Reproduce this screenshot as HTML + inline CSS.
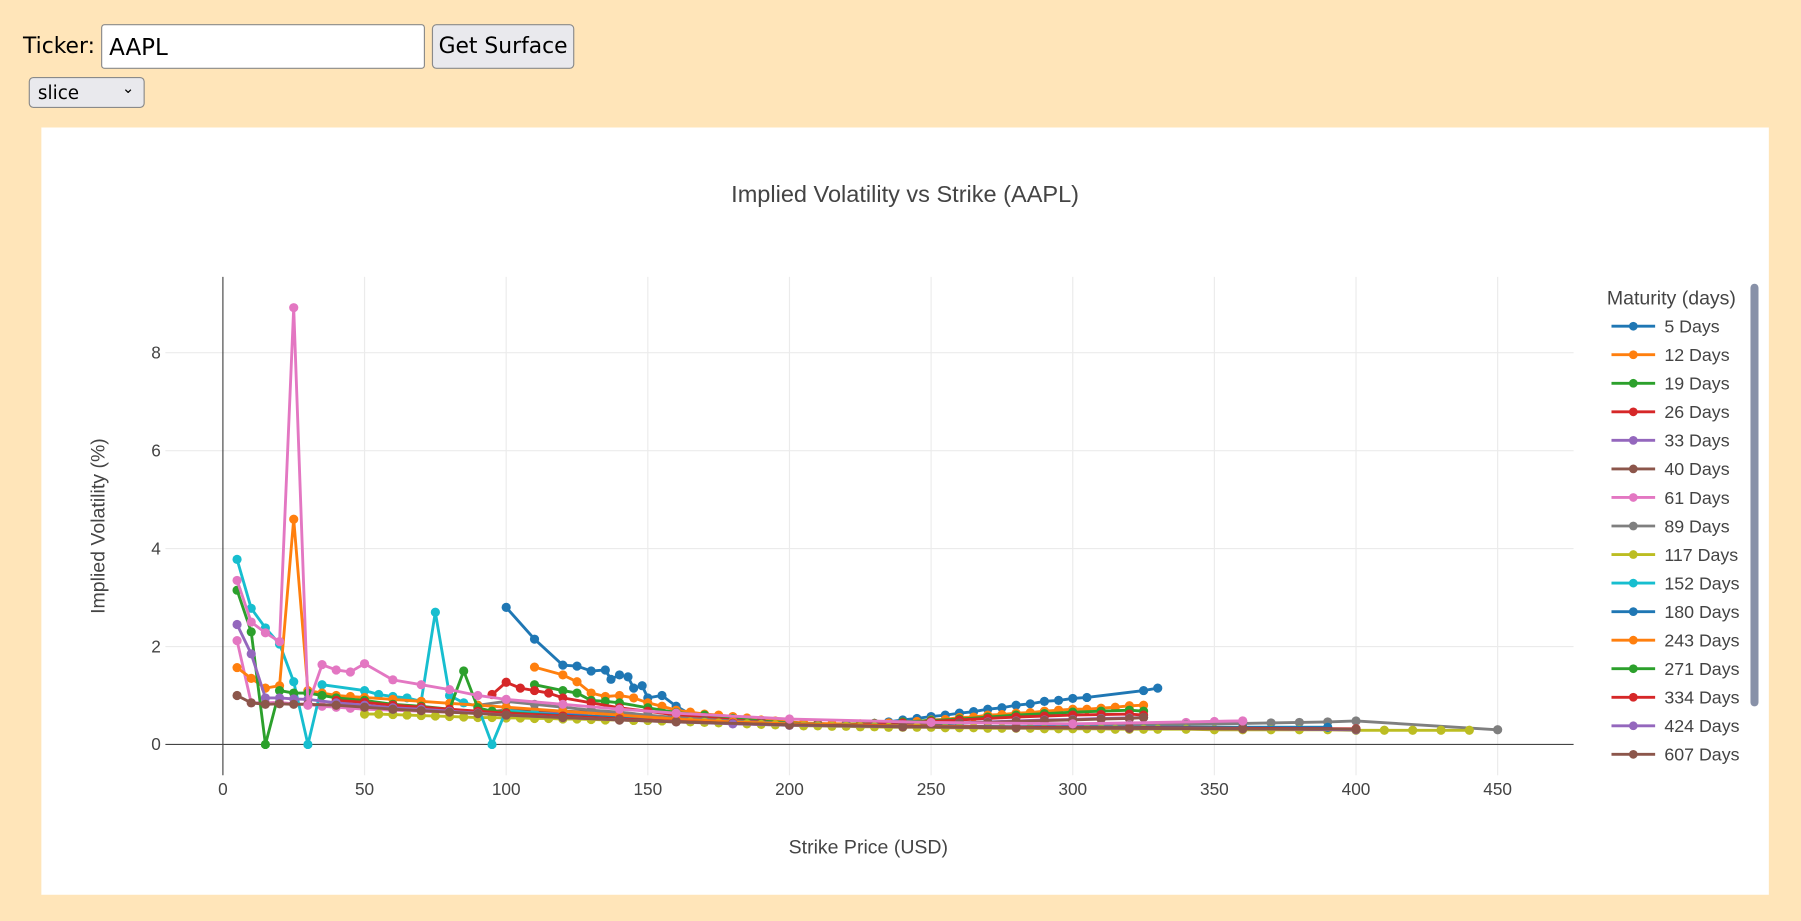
<!DOCTYPE html>
<html><head><meta charset="utf-8">
<style>
html,body{margin:0;padding:0;background:#ffe5b9;overflow:hidden;}
#wrap{position:absolute;left:0;top:0;width:1568px;height:802px;transform:scale(1.14860);transform-origin:0 0;font-family:"Liberation Sans","DejaVu Sans",sans-serif;}
.lbl{position:absolute;left:20px;top:29px;font-size:20px;color:#000;font-family:"DejaVu Sans",sans-serif;font-size:19px;}
.inp{position:absolute;left:88px;top:21px;width:282px;height:39px;box-sizing:border-box;border:1px solid #8a8a8a;border-radius:3px;background:#fff;font-size:20px;padding:7px 6px;font-family:"DejaVu Sans",sans-serif;}
.btn{position:absolute;left:376px;top:21px;width:124px;height:39px;box-sizing:border-box;border:1px solid #8a8a8a;border-radius:4px;background:#e9e9ed;font-size:19px;text-align:center;line-height:37px;font-family:"DejaVu Sans",sans-serif;}
.sel{position:absolute;left:25px;top:67px;width:101px;height:27px;box-sizing:border-box;border:1px solid #8a8a8a;border-radius:4px;background:#e9e9ed;font-size:16px;padding:3px 7px;font-family:"DejaVu Sans",sans-serif;}
.sel span{position:absolute;right:8px;top:2px;font-size:13px;}
#panel{position:absolute;left:36px;top:111px;width:1504px;height:668px;background:#fff;}
</style></head>
<body>
<div id="wrap">
<div class="lbl">Ticker:</div>
<div class="inp">AAPL</div>
<div class="btn">Get Surface</div>
<div class="sel">slice<span>&#8964;</span></div>
<div id="panel"></div>
<svg id="chart" width="1568" height="802" style="position:absolute;left:0;top:0"></svg>
</div>
<script>
const names=["5 Days","12 Days","19 Days","26 Days","33 Days","40 Days","61 Days","89 Days","117 Days","152 Days","180 Days","243 Days","271 Days","334 Days","424 Days","607 Days","789 Days"];
const colors=["#1f77b4","#ff7f0e","#2ca02c","#d62728","#9467bd","#8c564b","#e377c2","#7f7f7f","#bcbd22","#17becf"];
const xTicks=[0,50,100,150,200,250,300,350,400,450];
const yTicks=[0,2,4,6,8];
const strikes=[
[100,110,120,125,130,135,137,140,143,145,148,150,155,160,165,170,175,180,185,190,195,200,205,210,215,220,225,230,235,240,245,250,255,260,265,270,275,280,285,290,295,300,305,325,330],
[110,120,125,130,135,140,145,150,155,160,165,170,175,180,185,190,195,200,205,210,215,220,225,230,235,240,245,250,255,260,265,270,275,280,285,290,295,300,305,310,315,320,325],
[110,120,125,130,135,140,150,160,170,180,190,200,210,220,230,240,250,260,270,280,290,300,310,320,325],
[95,100,105,110,115,120,130,140,150,160,170,180,190,200,210,220,230,240,250,260,270,280,290,300,310,320,325],
[95,100,110,120,130,140,150,160,170,180,190,200,210,220,230,240,250,260,270,280,290,300,310,320,325],
[90,100,110,120,130,140,150,160,170,180,190,200,210,220,230,240,250,260,270,280,290,300,310,320,325],
[5,10,15,20,25,30,35,40,45,50,60,70,80,90,100,110,120,130,140,150,160,180,200,220,240,260,280,300,320,340,350,360],
[90,100,110,120,130,140,150,160,180,200,220,240,260,280,300,320,340,360,370,380,390,400,450],
[50,55,60,65,70,75,80,85,90,95,100,105,110,115,120,125,130,135,140,145,150,155,160,165,170,175,180,185,190,195,200,205,210,215,220,225,230,235,240,245,250,255,260,265,270,275,280,285,290,295,300,305,310,315,320,325,330,340,350,360,370,380,390,400,410,420,430,440],
[5,10,15,20,25,30,35,50,55,60,65,70,75,80,85,90,95,100,110,120,140,160,180,200,240,280,320,360,390],
[60,70,80,90,100,120,140,160,180,200,240,280,320,360,390],
[5,10,15,20,25,30,35,40,45,50,60,70,80,90,100,120,140,160,180,200,240,280,320,360,400],
[5,10,15,20,25,30,35,40,50,60,70,80,85,90,95,100,120,140,160,180,200,240,280,320,360,400],
[40,50,60,70,80,90,100,120,140,160,180,200,240,280,320,360,400],
[5,10,15,20,25,30,40,50,60,70,80,90,100,120,140,160,180,200,240,280,320,360,400],
[5,10,15,20,25,30,40,50,60,70,80,90,100,120,140,160,200,240,280,320,360,400],
[5,10,15,20,25,30,35,40,45,50,60,70,80,90,100,120,140,160,200,250,300,360]
];
const ivs=[
[2.8,2.15,1.62,1.6,1.5,1.52,1.33,1.42,1.38,1.15,1.2,0.95,1.0,0.78,0.62,0.57,0.53,0.5,0.47,0.45,0.43,0.42,0.41,0.4,0.4,0.4,0.41,0.43,0.46,0.5,0.53,0.57,0.6,0.64,0.67,0.72,0.75,0.8,0.83,0.88,0.9,0.94,0.96,1.1,1.15],
[1.58,1.42,1.28,1.05,0.98,1.0,0.95,0.85,0.78,0.7,0.66,0.62,0.6,0.57,0.54,0.5,0.48,0.46,0.44,0.43,0.42,0.42,0.42,0.43,0.44,0.46,0.47,0.5,0.51,0.55,0.56,0.6,0.61,0.64,0.65,0.68,0.7,0.72,0.72,0.74,0.76,0.79,0.8],
[1.22,1.1,1.05,0.9,0.88,0.85,0.75,0.65,0.6,0.53,0.48,0.44,0.41,0.41,0.43,0.46,0.49,0.52,0.56,0.6,0.63,0.66,0.68,0.7,0.68],
[1.02,1.27,1.15,1.1,1.05,0.95,0.85,0.75,0.68,0.6,0.55,0.5,0.46,0.42,0.4,0.4,0.42,0.44,0.47,0.5,0.53,0.56,0.58,0.6,0.61,0.62,0.6],
[0.62,0.66,0.65,0.64,0.62,0.6,0.56,0.52,0.49,0.46,0.43,0.41,0.39,0.38,0.39,0.4,0.42,0.44,0.46,0.48,0.5,0.51,0.53,0.54,0.55],
[0.65,0.7,0.7,0.68,0.66,0.62,0.58,0.54,0.5,0.47,0.44,0.41,0.39,0.38,0.39,0.4,0.42,0.44,0.45,0.47,0.49,0.5,0.52,0.53,0.55],
[2.12,0.85,0.85,0.86,0.83,0.82,0.78,0.76,0.74,0.72,0.7,0.68,0.66,0.64,0.62,0.6,0.58,0.56,0.54,0.52,0.5,0.46,0.42,0.39,0.37,0.36,0.36,0.38,0.4,0.45,0.47,0.48],
[0.8,0.88,0.82,0.76,0.7,0.66,0.6,0.55,0.48,0.43,0.39,0.37,0.36,0.36,0.37,0.39,0.41,0.43,0.44,0.45,0.46,0.48,0.3],
[0.62,0.62,0.61,0.6,0.59,0.58,0.57,0.56,0.55,0.55,0.54,0.54,0.53,0.53,0.52,0.52,0.51,0.5,0.5,0.49,0.49,0.48,0.47,0.46,0.45,0.44,0.43,0.42,0.41,0.4,0.39,0.38,0.38,0.37,0.37,0.36,0.36,0.35,0.35,0.35,0.35,0.34,0.34,0.34,0.33,0.33,0.33,0.33,0.32,0.32,0.32,0.32,0.32,0.31,0.31,0.31,0.31,0.31,0.3,0.3,0.3,0.3,0.3,0.29,0.29,0.29,0.29,0.29],
[3.78,2.78,2.38,2.05,1.28,0.0,1.22,1.1,1.02,0.98,0.95,0.88,2.7,1.0,0.85,0.78,0.0,0.7,0.64,0.6,0.55,0.5,0.45,0.42,0.38,0.36,0.35,0.35,0.35],
[0.72,0.7,0.68,0.66,0.64,0.6,0.55,0.5,0.45,0.42,0.38,0.36,0.35,0.35,0.35],
[1.57,1.35,1.15,1.2,4.6,1.1,1.05,1.0,0.98,0.96,0.92,0.88,0.84,0.8,0.76,0.68,0.6,0.52,0.46,0.42,0.38,0.35,0.33,0.32,0.3],
[3.15,2.3,0.0,1.1,1.05,1.05,1.0,0.95,0.9,0.82,0.78,0.72,1.5,0.75,0.68,0.65,0.58,0.52,0.47,0.43,0.4,0.37,0.35,0.34,0.33,0.3],
[0.9,0.86,0.8,0.76,0.72,0.68,0.64,0.58,0.52,0.47,0.43,0.4,0.37,0.35,0.34,0.33,0.32],
[2.45,1.85,0.95,0.95,0.93,0.92,0.85,0.8,0.75,0.72,0.68,0.64,0.6,0.55,0.5,0.46,0.42,0.39,0.36,0.34,0.33,0.32,0.3],
[1.0,0.85,0.82,0.83,0.82,0.82,0.8,0.76,0.72,0.69,0.66,0.63,0.6,0.55,0.5,0.46,0.4,0.36,0.34,0.33,0.32,0.31],
[3.35,2.5,2.28,2.1,8.92,0.8,1.63,1.52,1.48,1.65,1.32,1.22,1.12,1.0,0.92,0.82,0.72,0.64,0.52,0.45,0.42,0.48]
];
const seriesColor=[0,1,2,3,4,5,6,7,8,9,0,1,2,3,4,5,6];
const svg=document.getElementById('chart');
const NS='http://www.w3.org/2000/svg';
const L=144,R=1370,T=241,B=675,x0=-20.3,x1=476.8,y0=-0.63,y1=9.55;
function xs(v){return L+(v-x0)/(x1-x0)*(R-L);}
function ys(v){return B-(v-y0)/(y1-y0)*(B-T);}
function mk(tag,attrs,parent){const e=document.createElementNS(NS,tag);for(const k in attrs)e.setAttribute(k,attrs[k]);(parent||svg).appendChild(e);return e;}
const grid=mk('g',{});


xTicks.forEach(t=>{
  if(t!==0){const l=mk('line',{x1:xs(t),x2:xs(t),y1:T,y2:B,stroke:'#ebebeb','stroke-width':1},grid);
  
  }
  const tx=mk('text',{x:xs(t),y:B+17,'text-anchor':'middle','font-size':15,fill:'#444'});
  tx.textContent=t;
  
  
});
yTicks.forEach(t=>{
  if(t!==0){const l=mk('line',{x1:L,x2:R,y1:ys(t),y2:ys(t),stroke:'#ebebeb','stroke-width':1},grid);
  
  }
  const tx=mk('text',{x:140,y:ys(t)+5,'text-anchor':'end','font-size':15,fill:'#444'});
  tx.textContent=t;
  
  
});
const xa=mk('line',{x1:L,x2:R,y1:ys(0),y2:ys(0),stroke:'#444','stroke-width':1});


const ya=mk('line',{x1:xs(0),x2:xs(0),y1:T,y2:B,stroke:'#444','stroke-width':1});


const plot=mk('g',{});


for(let i=0;i<strikes.length;i++){
  const c=colors[seriesColor[i]];
  const g=mk('g',{},plot);
  
  
  const pts=strikes[i].map((s,j)=>xs(s).toFixed(1)+','+ys(ivs[i][j]).toFixed(1)).join(' ');
  const pl=mk('polyline',{points:pts,fill:'none',stroke:c,'stroke-width':2.5,'stroke-linejoin':'round'},g);
  
  
  strikes[i].forEach((s,j)=>{
    const p=mk('circle',{cx:xs(s),cy:ys(ivs[i][j]),r:4,fill:c},g);
    
    
  });
}
function txt(s,attrs,name){const e=mk('text',attrs);e.textContent=s;
  
  return e;}
txt('Implied Volatility vs Strike (AAPL)',{x:788,y:176,'text-anchor':'middle','font-size':20.5,fill:'#444'},'chart-title');
txt('Strike Price (USD)',{x:756,y:743,'text-anchor':'middle','font-size':17,fill:'#444'},'x-axis-title');
txt('Implied Volatility (%)',{x:0,y:0,'text-anchor':'middle','font-size':17,fill:'#444',transform:'translate(91,458) rotate(-90)'},'y-axis-title');
const lg=mk('g',{});


const lt=mk('text',{x:1399,y:265,'font-size':17,fill:'#444'},lg);
lt.textContent='Maturity (days)';


for(let i=0;i<16;i++){
  const c=colors[seriesColor[i]];
  const y=284+i*24.85;
  const e=mk('g',{},lg);
  
  
  mk('line',{x1:1403,x2:1441,y1:y,y2:y,stroke:c,'stroke-width':2.5},e);
  mk('circle',{cx:1422,cy:y,r:3.8,fill:c},e);
  const t=mk('text',{x:1449,y:y+5.5,'font-size':15.5,fill:'#444'},e);
  t.textContent=names[i];
}
const sb=mk('rect',{x:1524,y:247,width:7,height:368,rx:3.5,fill:'#8891a8'});


</script>
</body></html>
